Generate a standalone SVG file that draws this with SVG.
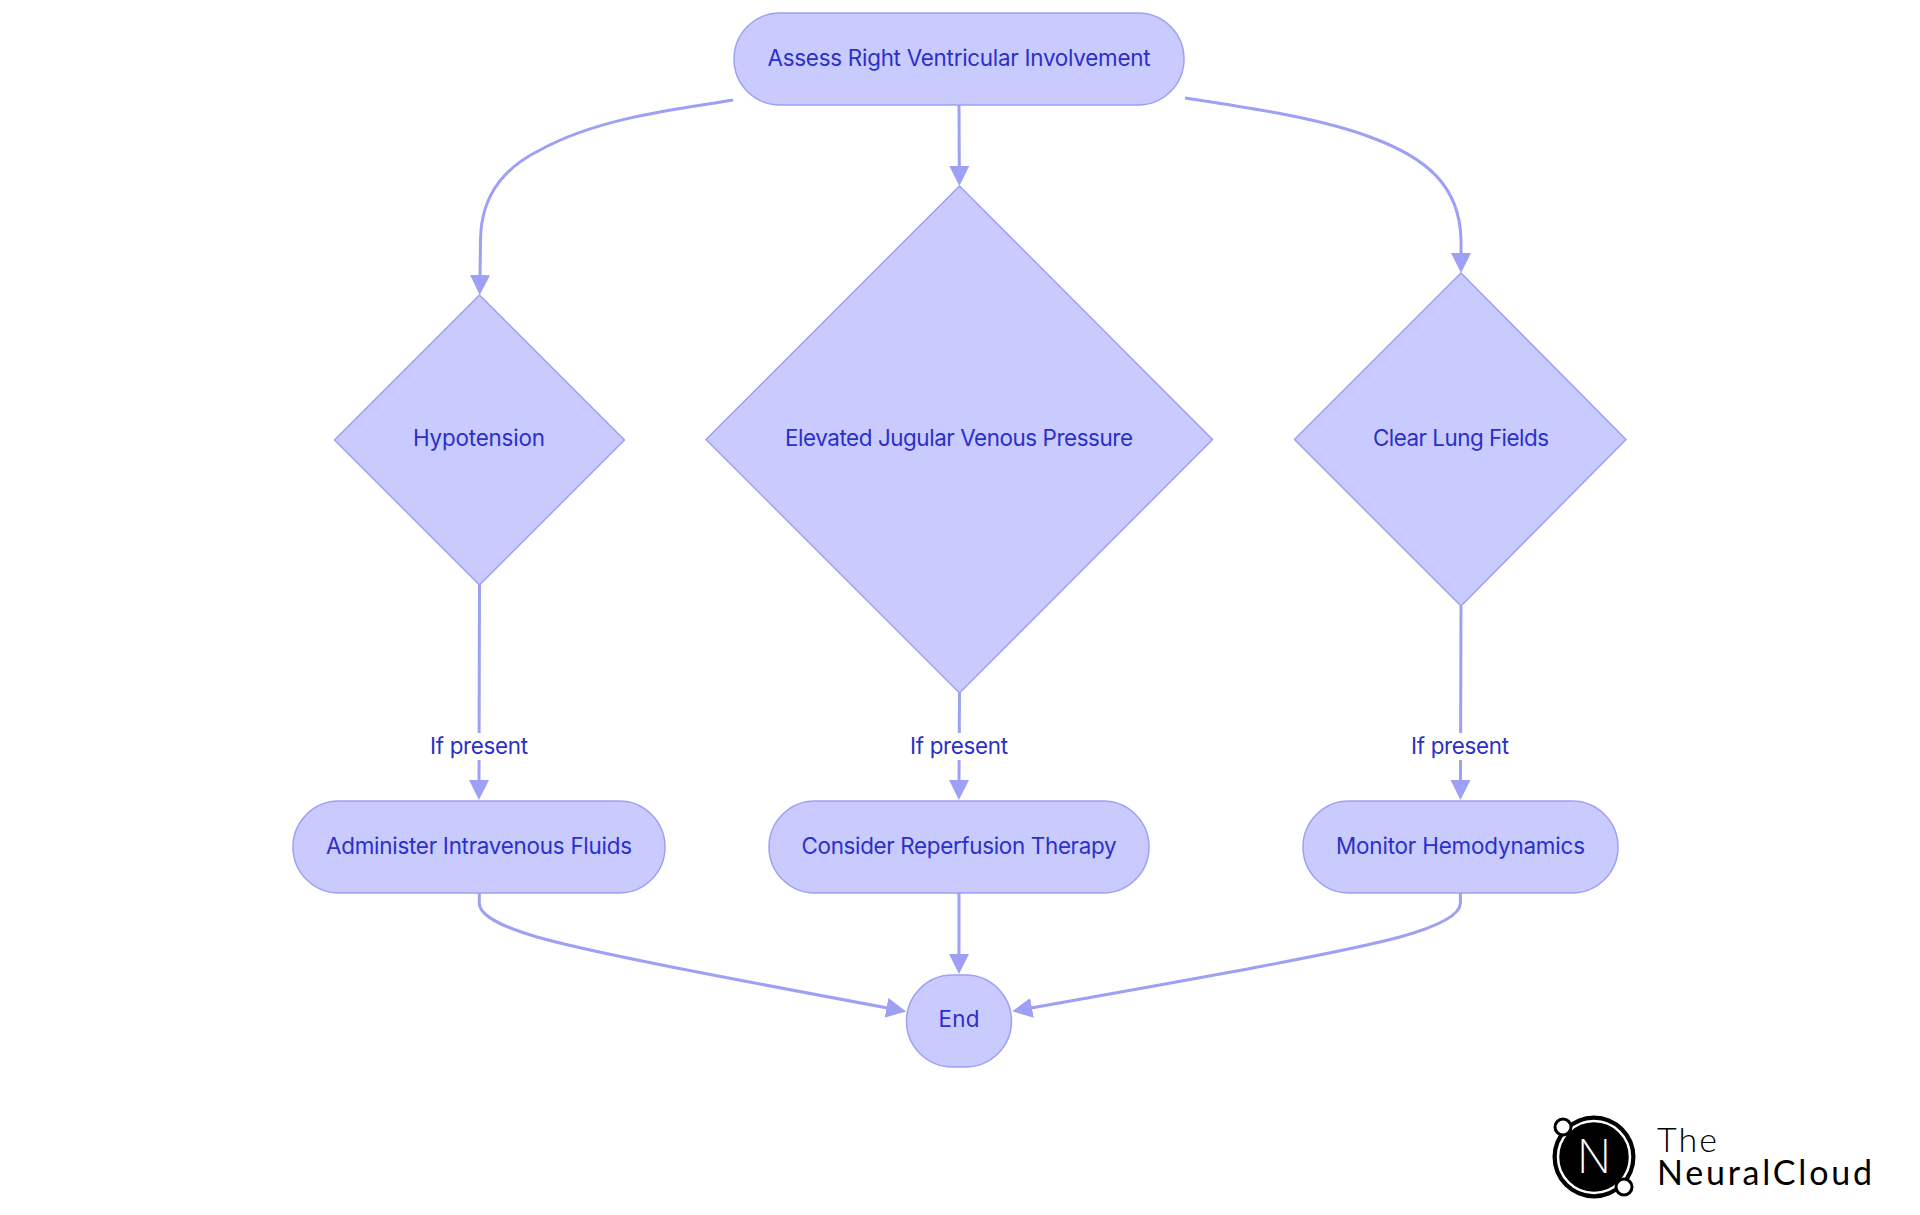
<svg xmlns="http://www.w3.org/2000/svg" width="1920" height="1215" viewBox="0 0 1920 1215">
<defs>
<style>
.n{fill:#c9cbff;stroke:#9da0f5;stroke-width:1.5}
.e{fill:none;stroke:#9da0f5;stroke-width:3}
.t{font-family:"Inter","Noto Sans",sans-serif;font-size:22.4px;fill:#2b30c9;text-anchor:middle}
.lb{fill:#fff}
.logo{font-family:"Lato","Noto Sans",sans-serif;fill:#000}
</style>
<marker id="a" markerUnits="userSpaceOnUse" markerWidth="22" markerHeight="22" refX="1" refY="10" orient="auto"><path d="M0,0L20,10L0,20Z" fill="#9da0f5"/></marker>
</defs>
<rect width="1920" height="1215" fill="#fff"/>
<g id="connectors">
<path class="e" marker-end="url(#a)" d="M733,100C680,109 600,117 540,150C510,165 481,190 480.500,240L480,276"/>
<path class="e" marker-end="url(#a)" d="M959,105L959.300,167"/>
<path class="e" marker-end="url(#a)" d="M1185,98C1250,108 1320,118 1370,137C1425,157 1460,185 1461,240L1461,254"/>
<path class="e" marker-end="url(#a)" d="M479.500,585L479,781"/>
<path class="e" marker-end="url(#a)" d="M959.500,693L959,781"/>
<path class="e" marker-end="url(#a)" d="M1461,606L1460.500,781"/>
<path class="e" marker-end="url(#a)" d="M479.300,893V903C479.300,918 510,929 537,937C590,952 700,973 887.500,1008"/>
<path class="e" marker-end="url(#a)" d="M959,893V955"/>
<path class="e" marker-end="url(#a)" d="M1460.400,893V903C1460.400,918 1425,930 1400,937C1340,953 1200,978 1031,1008"/>
</g>
<g id="edge-labels">
<g id="label-left"><rect class="lb" x="429" y="733" width="100" height="27"/><text class="t" x="479" y="754" textLength="98">If present</text></g>
<g id="label-mid"><rect class="lb" x="909" y="733" width="100" height="27"/><text class="t" x="959" y="754" textLength="98">If present</text></g>
<g id="label-right"><rect class="lb" x="1410" y="733" width="100" height="27"/><text class="t" x="1460" y="754" textLength="98">If present</text></g>
</g>
<g id="assess"><rect class="n" x="734" y="13" width="450" height="92" rx="46"/><text class="t" x="959" y="66" textLength="383">Assess Right Ventricular Involvement</text></g>
<g id="hypotension"><polygon class="n" points="479.500,295 624.500,440 479.500,585 334.500,440"/><text class="t" x="479" y="446" textLength="132">Hypotension</text></g>
<g id="jvp"><polygon class="n" points="959.500,186 1212.500,439.500 959.500,693 706,439.500"/><text class="t" x="959" y="446" textLength="348">Elevated Jugular Venous Pressure</text></g>
<g id="lungs"><polygon class="n" points="1461,273 1626,439.500 1461,606 1294.500,439.500"/><text class="t" x="1461" y="446" textLength="176">Clear Lung Fields</text></g>
<g id="fluids"><rect class="n" x="293" y="801" width="372" height="92" rx="46"/><text class="t" x="479" y="854" textLength="306">Administer Intravenous Fluids</text></g>
<g id="reperfusion"><rect class="n" x="769" y="801" width="380" height="92" rx="46"/><text class="t" x="959" y="854" textLength="315">Consider Reperfusion Therapy</text></g>
<g id="monitor"><rect class="n" x="1303" y="801" width="315" height="92" rx="46"/><text class="t" x="1460.500" y="854" textLength="249">Monitor Hemodynamics</text></g>
<g id="end"><rect class="n" x="906.500" y="975" width="105" height="92" rx="46"/><text class="t" x="959" y="1027" textLength="41">End</text></g>
<g id="logo">
<circle cx="1594" cy="1157" r="41.500" fill="#000"/>
<circle cx="1594" cy="1157" r="36" fill="none" stroke="#fff" stroke-width="2.500"/>
<circle cx="1563" cy="1127" r="8" fill="#fff" stroke="#000" stroke-width="3"/>
<circle cx="1624" cy="1187" r="8" fill="#fff" stroke="#000" stroke-width="3"/>
<text x="1577" y="1173" font-family="Inter,sans-serif" font-weight="200" font-size="46" fill="#fff" textLength="34" lengthAdjust="spacingAndGlyphs">N</text>
<text class="logo" x="1657" y="1152" font-size="34" font-weight="300" textLength="60">The</text>
<text class="logo" x="1657" y="1185" font-size="34" font-weight="400" textLength="215">NeuralCloud</text>
</g>
</svg>
